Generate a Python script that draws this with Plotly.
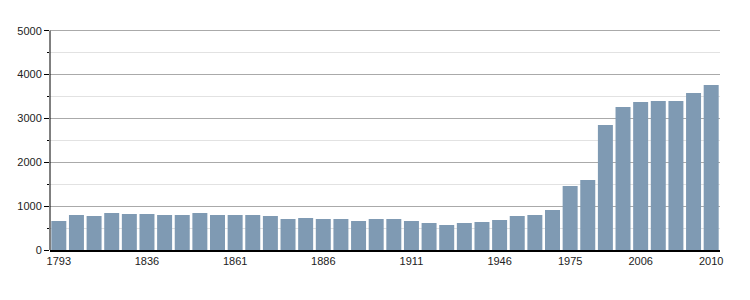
import plotly.graph_objects as go

years = ["1793","1800","1806","1821","1831","1836","1841","1846","1851","1856",
         "1861","1866","1872","1876","1881","1886","1891","1896","1901","1906",
         "1911","1921","1926","1931","1936","1946","1954","1962","1968","1975",
         "1982","1990","1999","2006","2007","2008","2009","2010"]
population = [661, 798, 775, 843, 821, 821, 798, 798, 843, 798,
              798, 798, 775, 707, 729, 707, 707, 661, 707, 707,
              661, 615, 570, 615, 638, 684, 775, 798, 912, 1459,
              1596, 2850, 3260, 3374, 3397, 3397, 3579, 3761]
tick_labels = ["1793", "1836", "1861", "1886", "1911", "1946", "1975", "2006", "2010"]
y_ticks = [0, 1000, 2000, 3000, 4000, 5000]
y_minor = [500, 1500, 2500, 3500, 4500]

fig = go.Figure(go.Bar(x=years, y=population, marker_color="#7f9ab3",
                       marker_line_width=0))

fig.update_layout(
    width=750, height=300,
    margin=dict(l=50, r=30, t=28, b=50),
    paper_bgcolor="white", plot_bgcolor="white",
    bargap=0.15,
    showlegend=False,
    font=dict(family="Liberation Sans, Arial, sans-serif", size=11, color="#222"),
)
fig.update_xaxes(
    type="category", range=[-0.5, len(years) - 0.5],
    tickmode="array", tickvals=tick_labels, ticktext=tick_labels,
    showline=True, linecolor="black", linewidth=1.5,
    showgrid=False, ticks="", tickangle=0,
)
fig.update_yaxes(
    range=[0, 5061], tickmode="array", tickvals=y_ticks,
    showline=False,
    ticks="outside", ticklen=5, tickcolor="black",
    showgrid=True, gridcolor="#aaaaaa", gridwidth=1,
    zeroline=False,
    minor=dict(tickvals=y_minor, showgrid=True, gridcolor="#e2e2e2",
               ticks="outside", ticklen=2, tickcolor="black"),
)
fig.add_shape(type="line", xref="paper", yref="y", x0=0, x1=0,
              y0=0, y1=max(y_ticks), line=dict(color="black", width=1))

fig.write_html("out.html")
